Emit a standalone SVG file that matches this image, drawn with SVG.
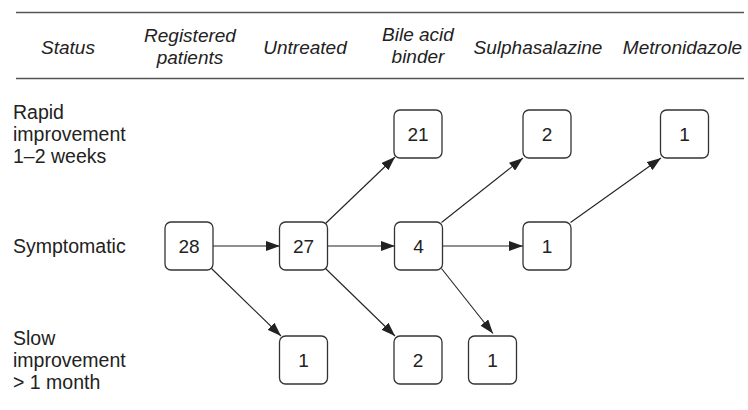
<svg xmlns="http://www.w3.org/2000/svg" width="748" height="410" viewBox="0 0 748 410">
<defs>
<style>
.hdr{font-family:"Liberation Sans",Arial,sans-serif;font-style:italic;font-size:19px;fill:#222;text-anchor:middle}
.lbl{font-family:"Liberation Sans",Arial,sans-serif;font-size:19.5px;fill:#222}
.box{fill:#fff;stroke:#333;stroke-width:1.3}
.num{font-family:"Liberation Sans",Arial,sans-serif;font-size:19px;fill:#222;text-anchor:middle}
.rule{stroke:#555;stroke-width:1.3}
.edge{stroke:#222;stroke-width:1.1;fill:none;marker-end:url(#ah)}
</style>
<marker id="ah" viewBox="0 0 14 10" refX="14" refY="5" markerWidth="14" markerHeight="10" markerUnits="userSpaceOnUse" orient="auto">
<path d="M0,0 L14,5 L0,10 Z" fill="#222"/>
</marker>
</defs>
<rect width="748" height="410" fill="#fff"/>
<g id="header">
<line class="rule" x1="16" y1="12.5" x2="744" y2="12.5"/>
<line class="rule" x1="16" y1="78.5" x2="744" y2="78.5"/>
<text class="hdr" x="68" y="54">Status</text>
<text class="hdr" x="190" y="42">Registered</text>
<text class="hdr" x="190" y="64">patients</text>
<text class="hdr" x="305" y="54">Untreated</text>
<text class="hdr" x="418" y="41">Bile acid</text>
<text class="hdr" x="418" y="63">binder</text>
<text class="hdr" x="538" y="54">Sulphasalazine</text>
<text class="hdr" x="682.5" y="54">Metronidazole</text>
</g>
<g id="row-labels">
<text class="lbl" x="13" y="119">Rapid</text>
<text class="lbl" x="13" y="141">improvement</text>
<text class="lbl" x="13" y="163">1–2 weeks</text>
<text class="lbl" x="13" y="253">Symptomatic</text>
<text class="lbl" x="13" y="345">Slow</text>
<text class="lbl" x="13" y="367">improvement</text>
<text class="lbl" x="13" y="389">&gt; 1 month</text>
</g>
<g id="connectors">
<line class="edge" x1="213" y1="246" x2="280" y2="246"/>
<line class="edge" x1="327" y1="246" x2="395" y2="246"/>
<line class="edge" x1="443" y1="246" x2="523" y2="246"/>
<line class="edge" x1="211.5" y1="268.5" x2="281" y2="336"/>
<line class="edge" x1="325.5" y1="223.5" x2="395" y2="157"/>
<line class="edge" x1="325.5" y1="268.5" x2="395" y2="336"/>
<line class="edge" x1="441.5" y1="222.5" x2="523" y2="158"/>
<line class="edge" x1="441.5" y1="268.5" x2="493" y2="333.5"/>
<line class="edge" x1="570.5" y1="222.5" x2="661" y2="158"/>
</g>
<g id="n28"><rect class="box" x="165" y="222" width="48" height="48" rx="6"/><text class="num" x="189" y="253">28</text></g>
<g id="n27"><rect class="box" x="279.5" y="222" width="48" height="48" rx="6"/><text class="num" x="303.5" y="253">27</text></g>
<g id="n4"><rect class="box" x="394.5" y="222" width="48" height="48" rx="6"/><text class="num" x="418.5" y="253">4</text></g>
<g id="n1s"><rect class="box" x="523" y="222" width="48" height="48" rx="6"/><text class="num" x="547" y="253">1</text></g>
<g id="n21"><rect class="box" x="394" y="110" width="48" height="48" rx="6"/><text class="num" x="418" y="141">21</text></g>
<g id="n2top"><rect class="box" x="523" y="110" width="48" height="48" rx="6"/><text class="num" x="547" y="141">2</text></g>
<g id="n1m"><rect class="box" x="660.5" y="110" width="48" height="48" rx="6"/><text class="num" x="684.5" y="141">1</text></g>
<g id="n1b"><rect class="box" x="279.5" y="336" width="48" height="48" rx="6"/><text class="num" x="303.5" y="367">1</text></g>
<g id="n2b"><rect class="box" x="394" y="336" width="48" height="48" rx="6"/><text class="num" x="418" y="367">2</text></g>
<g id="n1c"><rect class="box" x="468.5" y="336" width="48" height="48" rx="6"/><text class="num" x="492.5" y="367">1</text></g>
</svg>
